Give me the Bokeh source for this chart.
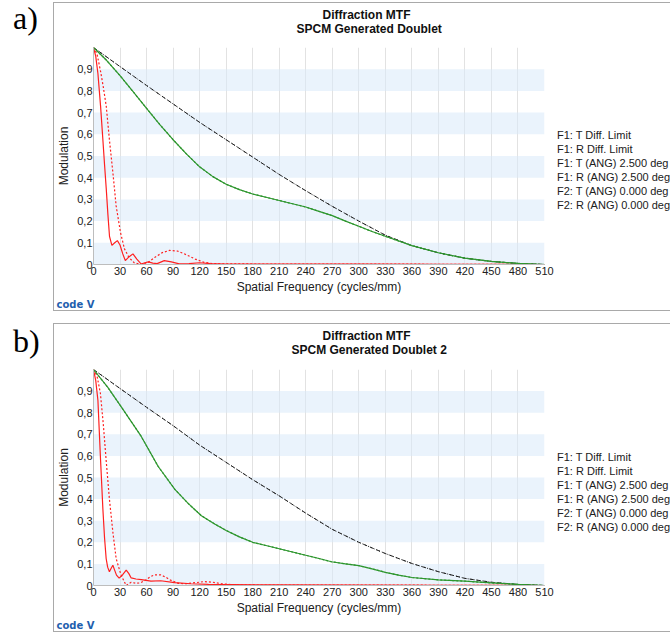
from bokeh.plotting import figure
from bokeh.models import FixedTicker, Legend, LegendItem, BoxAnnotation, Div, Spacer, Title
from bokeh.layouts import row, column
from bokeh.embed import file_html
from bokeh.resources import INLINE

# ---------------- data ----------------
x_ticks = list(range(0, 511, 30))
y_ticks = [0, 0.1, 0.2, 0.3, 0.4, 0.5, 0.6, 0.7, 0.8, 0.9]
y_tick_labels = ["0", "0,1", "0,2", "0,3", "0,4", "0,5", "0,6", "0,7", "0,8", "0,9"]
legend_labels = ["F1: T Diff. Limit", "F1: R Diff. Limit", "F1: T (ANG) 2.500 deg",
                 "F1: R (ANG) 2.500 deg", "F2: T (ANG) 0.000 deg", "F2: R (ANG) 0.000 deg"]
titles_a = ["Diffraction MTF", "SPCM Generated Doublet"]
titles_b = ["Diffraction MTF", "SPCM Generated Doublet 2"]
panel_tags = ["a)", "b)"]
logo_text = "code V"

# panel a
diff_a_f = [0, 30, 60, 90, 120, 150, 180, 210, 240, 270, 300, 330, 360, 390, 420, 450, 480, 510]
diff_a_v = [1.0, 0.912, 0.825, 0.74, 0.655, 0.575, 0.495, 0.415, 0.34, 0.268, 0.2, 0.135, 0.087, 0.054, 0.029, 0.014, 0.005, 0.0]
green_a_f = [0, 15, 30, 45, 60, 75, 90, 105, 120, 135, 150, 165, 180, 195, 210, 225, 240, 255, 270, 285,
             300, 315, 330, 360, 390, 420, 450, 480, 510]
green_a_v = [1.0, 0.94, 0.87, 0.795, 0.72, 0.645, 0.575, 0.51, 0.45, 0.405, 0.37, 0.345, 0.325, 0.31, 0.295,
             0.28, 0.265, 0.245, 0.225, 0.2, 0.176, 0.152, 0.13, 0.087, 0.054, 0.029, 0.014, 0.005, 0.0]
red_t_a_f = [0, 2.5, 5, 8, 10.6, 12.5, 14.4, 16.3, 18.1, 20.8, 24, 27, 30, 33, 36, 40, 44.6, 49, 54, 58, 62,
             67, 72, 80, 88, 97, 108, 120, 132, 150, 200, 300, 400, 510]
red_t_a_v = [1.0, 0.96, 0.88, 0.73, 0.575, 0.46, 0.35, 0.23, 0.13, 0.088, 0.1, 0.11, 0.09, 0.05, 0.018,
             0.035, 0.049, 0.025, 0.002, 0.008, 0.012, 0.006, 0.004, 0.018, 0.012, 0.003, 0.004, 0.008,
             0.004, 0.002, 0.002, 0.002, 0.001, 0.0]
red_r_a_f = [0, 4, 8, 11, 14.4, 18, 22, 25.6, 30.5, 35, 40, 46, 54, 62, 70, 78, 86, 95, 105, 115, 125,
             135, 150, 200, 300, 400, 510]
red_r_a_v = [1.0, 0.97, 0.89, 0.82, 0.73, 0.575, 0.42, 0.27, 0.148, 0.072, 0.033, 0.008, 0.0, 0.01, 0.035,
             0.055, 0.065, 0.062, 0.045, 0.025, 0.01, 0.004, 0.003, 0.002, 0.002, 0.001, 0.0]

# panel b
diff_b_f = [0, 30, 60, 90, 120, 150, 180, 210, 240, 270, 300, 330, 360, 390, 420, 450, 480, 510]
diff_b_v = [1.0, 0.912, 0.825, 0.74, 0.65, 0.57, 0.49, 0.415, 0.335, 0.26, 0.2, 0.148, 0.102, 0.064, 0.033, 0.015, 0.005, 0.0]
green_b_f = [0, 16, 31.6, 54, 73, 92, 107, 122, 137, 150, 165, 180, 195, 210, 225, 240, 255, 269, 285, 300,
             315, 330, 345, 360, 390, 420, 450, 480, 510]
green_b_v = [1.0, 0.918, 0.826, 0.69, 0.552, 0.445, 0.38, 0.323, 0.285, 0.255, 0.225, 0.2, 0.185, 0.17,
             0.155, 0.14, 0.125, 0.11, 0.1, 0.092, 0.077, 0.061, 0.048, 0.037, 0.026, 0.02, 0.012, 0.005, 0.0]
red_t_b_f = [0, 2.5, 5, 8, 10.6, 12.5, 14.3, 16, 18, 20, 21.9, 24, 26, 29, 33, 37, 40, 42.6, 48, 54, 65,
             76, 91.6, 110, 130, 200, 300, 400, 510]
red_t_b_v = [1.0, 0.95, 0.857, 0.58, 0.354, 0.22, 0.125, 0.085, 0.064, 0.08, 0.094, 0.07, 0.048, 0.034,
             0.05, 0.071, 0.055, 0.035, 0.03, 0.027, 0.02, 0.022, 0.013, 0.008, 0.005, 0.003, 0.002, 0.001, 0.0]
red_r_b_f = [0, 4, 7.8, 11, 14.3, 18, 21.9, 25.6, 31, 37, 42.6, 48, 53, 59, 64, 69, 76, 82, 87, 96, 105,
             115, 125, 135, 145, 160, 200, 300, 510]
red_r_b_v = [1.0, 0.97, 0.89, 0.75, 0.58, 0.4, 0.247, 0.125, 0.05, 0.0, 0.015, 0.01, 0.012, 0.025, 0.04,
             0.049, 0.049, 0.038, 0.025, 0.01, 0.008, 0.013, 0.018, 0.015, 0.008, 0.003, 0.002, 0.002, 0.0]

# ---------------- style ----------------
FONT = "Liberation Sans"
RED = "#ff2020"
GREEN = "#2e962e"
BLACK = "#1e1e1e"
BAND = "#d8e9f9"
BOX = "#a9a9a9"
TXT = "#202020"
STYLES = [dict(color=BLACK, line_width=1, line_dash="1 2"),
          dict(color=BLACK, line_width=1, line_dash="4 3"),
          dict(color=RED, line_width=1.2, line_dash="solid"),
          dict(color=RED, line_width=1.2, line_dash="2 2"),
          dict(color=GREEN, line_width=1.2, line_dash="solid"),
          dict(color=GREEN, line_width=1.2, line_dash="2 2")]

CANVAS_H = 307


def make_panel(titles, series, border_top, frame_h, spacer_standoff, line2_offset, legend_y):
    p = figure(width=500, height=CANVAS_H, x_range=(0, 510), y_range=(0, 1.0), title=None,
               output_backend="svg", toolbar_location=None,
               min_border_left=37, min_border_right=10,
               min_border_top=border_top, min_border_bottom=CANVAS_H - border_top - frame_h)
    p.outline_line_color = None
    p.background_fill_color = "white"
    p.border_fill_color = "white"

    for lo in [0.0, 0.2, 0.4, 0.6, 0.8]:
        p.add_layout(BoxAnnotation(bottom=lo, top=lo + 0.1, fill_color=BAND, fill_alpha=0.55,
                                   line_color=None, level="underlay"))
    p.ygrid.grid_line_color = None
    p.xgrid.ticker = FixedTicker(ticks=x_ticks)
    p.xgrid.grid_line_color = "#e2e2e2"

    p.xaxis.ticker = FixedTicker(ticks=x_ticks)
    p.yaxis.ticker = FixedTicker(ticks=y_ticks)
    p.yaxis.major_label_overrides = {t: s for t, s in zip(y_ticks, y_tick_labels)}
    for ax in (p.xaxis[0], p.yaxis[0]):
        ax.axis_line_color = "#bdbdbd"
        ax.major_tick_line_color = None
        ax.minor_tick_line_color = None
        ax.major_tick_out = 0
        ax.major_tick_in = 0
        ax.minor_tick_out = 0
        ax.minor_tick_in = 0
        ax.major_label_text_font = FONT
        ax.major_label_text_font_size = "11px"
        ax.major_label_text_color = TXT
        ax.axis_label_text_font = FONT
        ax.axis_label_text_font_size = "12px"
        ax.axis_label_text_font_style = "normal"
        ax.axis_label_text_color = TXT
    p.xaxis.major_label_standoff = 2
    p.xaxis.axis_label = "Spatial Frequency (cycles/mm)"
    p.xaxis.axis_label_standoff = 2
    p.yaxis.major_label_standoff = 1
    p.yaxis.axis_label = "Modulation"
    p.yaxis.axis_label_standoff = 3

    for (f, v), st in zip(series, STYLES):
        p.line(f, v, **st)

    # titles: spacer (closest to frame), second line, first line
    p.add_layout(Title(text=" ", text_font_size="7px", standoff=spacer_standoff), "above")
    p.add_layout(Title(text=titles[1], align="left", offset=line2_offset, vertical_align="top",
                       standoff=0, text_font=FONT, text_font_size="12px", text_font_style="bold",
                       text_color="#101010"), "above")
    p.add_layout(Title(text=titles[0], align="left", offset=229, vertical_align="bottom",
                       standoff=0, text_font=FONT, text_font_size="12px", text_font_style="bold",
                       text_color="#101010"), "above")
    # logo text
    p.add_layout(Title(text=logo_text, align="left", offset=-37, vertical_align="bottom", standoff=0.7,
                       text_font="DejaVu Sans", text_font_size="10px", text_font_style="bold",
                       text_color="#1f5fae"), "below")

    # legend lives in a narrow companion figure to the right of the frame
    lg = figure(width=116, height=CANVAS_H, x_range=(0, 1), y_range=(0, 1), title=None,
                output_backend="svg", toolbar_location=None, min_border=0,
                x_axis_location=None, y_axis_location=None)
    lg.outline_line_color = None
    lg.grid.visible = False
    rs = [lg.line([], [], **st) for st in STYLES]
    items = [LegendItem(label=lab, renderers=[r]) for lab, r in zip(legend_labels, rs)]
    leg = Legend(items=items, location=(0, legend_y), glyph_width=2, glyph_height=13, label_height=13,
                 label_standoff=1, spacing=1, padding=0, margin=0, border_line_color=None,
                 background_fill_alpha=0, label_text_font=FONT, label_text_font_size="11px",
                 label_text_color=TXT)
    lg.add_layout(leg, "center")

    box = row(p, lg, styles={"border-left": f"1px solid {BOX}", "border-top": f"1px solid {BOX}",
                             "border-bottom": f"1px solid {BOX}"})
    return box


def tag(s):
    return Div(text=f'<div style="font-family:\'Liberation Serif\';font-size:32px;line-height:32px;'
                    f'padding:2px 0 0 13px;color:#000">{s}</div>',
               width=53, height=40, margin=0)


box_a = make_panel(titles_a, [(diff_a_f, diff_a_v), (diff_a_f, diff_a_v), (red_t_a_f, red_t_a_v),
                              (red_r_a_f, red_r_a_v), (green_a_f, green_a_v), (green_a_f, green_a_v)],
                   border_top=44, frame_h=219, spacer_standoff=0.5, line2_offset=203, legend_y=53)
box_b = make_panel(titles_b, [(diff_b_f, diff_b_v), (diff_b_f, diff_b_v), (red_t_b_f, red_t_b_v),
                              (red_r_b_f, red_r_b_v), (green_b_f, green_b_v), (green_b_f, green_b_v)],
                   border_top=45, frame_h=218, spacer_standoff=1.5, line2_offset=198, legend_y=52)

layout = column(row(tag(panel_tags[0]), column(Spacer(height=2), box_a)),
                Spacer(height=12),
                row(tag(panel_tags[1]), box_b))

open("out.html", "w").write(file_html(layout, INLINE))
